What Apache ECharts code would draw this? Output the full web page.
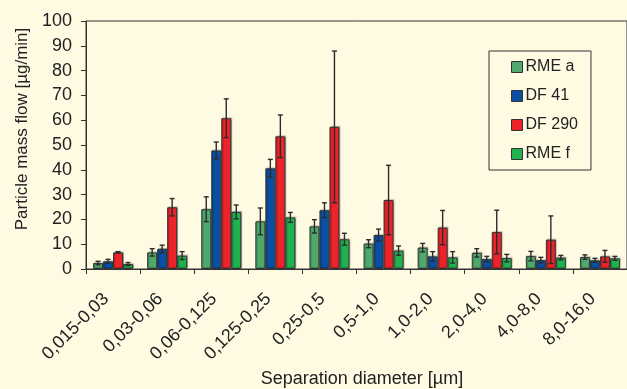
<!DOCTYPE html>
<html>
<head>
<meta charset="utf-8">
<script src="https://cdn.jsdelivr.net/npm/echarts@6/dist/echarts.min.js"></script>
<style>
  html, body { margin: 0; padding: 0; background: #fffbe3; }
  #main { width: 627px; height: 389px; }
</style>
</head>
<body>
<div id="main"></div>
<script>
// size classes
var categories = ['0,015-0,03', '0,03-0,06', '0,06-0,125', '0,125-0,25', '0,25-0,5',
  '0,5-1,0', '1,0-2,0', '2,0-4,0', '4,0-8,0', '8,0-16,0'];

// mean values [µg/min] and error (+/-)
var rmeA     = [2.4, 6.7, 24.1, 19.2, 17.2, 10.2, 8.6, 6.5, 5.2, 4.8];
var rmeAErr  = [0.7, 1.5, 5.0, 5.4, 2.7, 1.6, 1.7, 1.7, 1.9, 0.9];
var df41     = [3.1, 8.1, 47.8, 40.6, 23.7, 13.7, 5.1, 4.0, 3.6, 3.5];
var df41Err  = [0.8, 1.5, 3.4, 3.6, 3.0, 2.4, 1.9, 1.1, 1.1, 0.8];
var df290    = [6.7, 24.9, 60.8, 53.5, 57.3, 27.8, 16.7, 14.9, 11.8, 5.1];
var df290Err = [0.3, 3.5, 7.8, 8.6, 30.6, 14.0, 6.9, 8.8, 9.6, 2.4];
var rmeF     = [2.0, 5.4, 23.0, 20.8, 12.0, 7.4, 4.7, 4.4, 4.6, 4.3];
var rmeFErr  = [0.6, 1.6, 2.8, 2.0, 2.4, 1.9, 2.3, 1.5, 0.9, 0.8];

var yTicks = {min: 0, max: 100, interval: 10};

var names = ['RME a', 'DF 41', 'DF 290', 'RME f'];
var colors = ['#4fa96c', '#0b4fa2', '#ec2329', '#1fb24f'];
var values = [rmeA, df41, df290, rmeF];
var errors = [rmeAErr, df41Err, df290Err, rmeFErr];

var BAR_W = 10;
var FONT = '"Liberation Sans", Arial, sans-serif';

var chart = echarts.init(document.getElementById('main'));

function errRenderer(k) {
  return function (params, api) {
    var i = api.value(0), v = api.value(1), e = api.value(2);
    var hi = api.coord([i, v + e]);
    var lo = api.coord([i, v - e]);
    var x = hi[0] + (k - 1.5) * BAR_W;
    var style = {stroke: '#2b2b2b', lineWidth: 1.4};
    return {
      type: 'group',
      children: [
        {type: 'line', shape: {x1: x, y1: hi[1], x2: x, y2: lo[1]}, style: style},
        {type: 'line', shape: {x1: x - 2.5, y1: hi[1], x2: x + 2.5, y2: hi[1]}, style: style},
        {type: 'line', shape: {x1: x - 2.5, y1: lo[1], x2: x + 2.5, y2: lo[1]}, style: style}
      ]
    };
  };
}

var series = [];
names.forEach(function (n, k) {
  series.push({
    name: n,
    type: 'bar',
    barWidth: BAR_W,
    barGap: '0%',
    data: values[k],
    itemStyle: {
      color: colors[k],
      borderColor: '#333',
      borderWidth: 1,
      shadowColor: 'rgba(0,0,0,0.25)',
      shadowBlur: 1,
      shadowOffsetX: 1,
      shadowOffsetY: -1
    },
    emphasis: {disabled: true},
    z: 2
  });
});
names.forEach(function (n, k) {
  series.push({
    type: 'custom',
    renderItem: errRenderer(k),
    data: values[k].map(function (v, i) { return [i, v, errors[k][i]]; }),
    encode: {x: 0, y: 1},
    silent: true,
    z: 5
  });
});

var option = {
  backgroundColor: '#fffbe3',
  animation: false,
  textStyle: {fontFamily: FONT},
  grid: {left: 86, top: 21, width: 543, height: 248, show: true,
    borderColor: '#333', borderWidth: 1, backgroundColor: 'transparent'},
  legend: {
    data: names,
    orient: 'vertical',
    left: 489,
    top: 51,
    padding: [8, 13, 8, 22],
    itemGap: 13,
    itemWidth: 11,
    itemHeight: 11,
    icon: 'rect',
    borderColor: '#333',
    borderWidth: 1,
    backgroundColor: '#fffbe3',
    itemStyle: {borderColor: '#333', borderWidth: 1},
    textStyle: {fontSize: 16, color: '#222', fontFamily: FONT, padding: [0, 0, 0, -2]},
    selectedMode: false
  },
  xAxis: {
    type: 'category',
    data: categories,
    axisLine: {lineStyle: {color: '#333', width: 1}},
    axisTick: {show: true, length: 5, lineStyle: {color: '#333'}},
    axisLabel: {interval: 0, rotate: 45, fontSize: 18, color: '#222', margin: 20,
      padding: [0, 10, 0, 0], fontFamily: FONT},
    splitLine: {show: false}
  },
  yAxis: {
    type: 'value',
    min: yTicks.min,
    max: yTicks.max,
    interval: yTicks.interval,
    axisLine: {show: true, lineStyle: {color: '#333', width: 1}},
    axisTick: {show: true, length: 5, lineStyle: {color: '#333'}},
    axisLabel: {fontSize: 18, color: '#222', margin: 14, fontFamily: FONT},
    splitLine: {show: false}
  },
  graphic: [
    {type: 'text', x: 22, y: 129, rotation: Math.PI / 2,
      style: {text: 'Particle mass flow [µg/min]', fontSize: 17, fill: '#222',
        fontFamily: FONT, textAlign: 'center', textVerticalAlign: 'middle'}},
    {type: 'text', x: 362, y: 379,
      style: {text: 'Separation diameter [µm]', fontSize: 18, fill: '#222',
        fontFamily: FONT, textAlign: 'center', textVerticalAlign: 'middle'}}
  ],
  series: series
};

chart.setOption(option);
</script>
</body>
</html>
